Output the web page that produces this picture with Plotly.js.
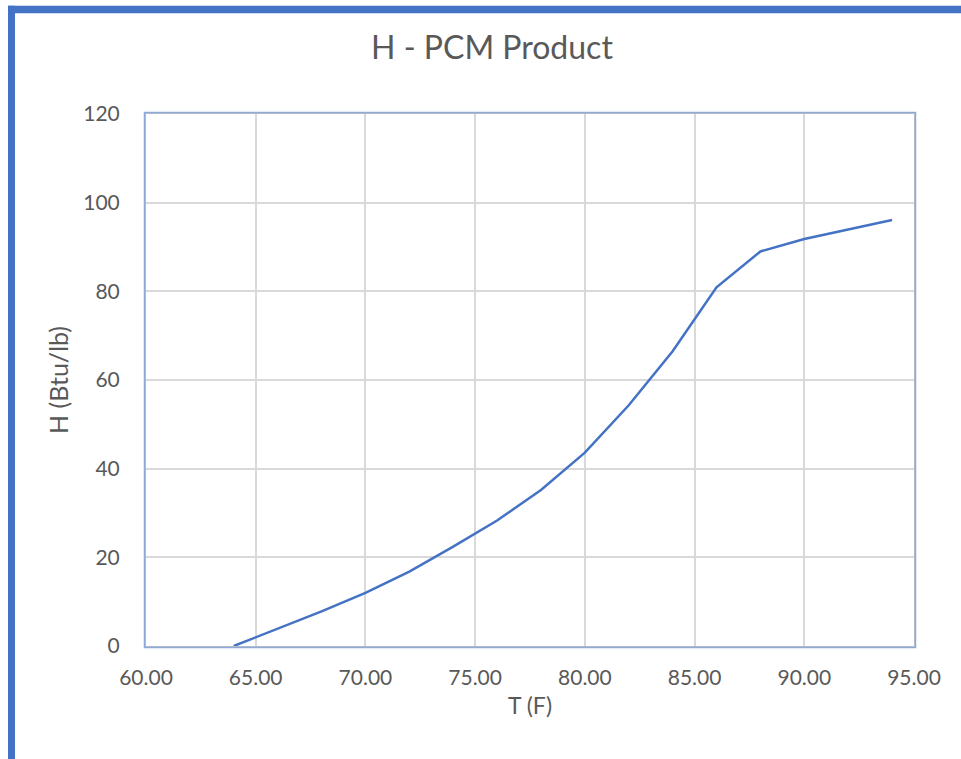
<!DOCTYPE html>
<html>
<head>
<meta charset="utf-8">
<script src="https://cdn.plot.ly/plotly-3.0.1.min.js"></script>
<style>
  html, body { margin: 0; padding: 0; background: #ffffff; }
  #chart { width: 961px; height: 759px; }
</style>
</head>
<body>
<div id="chart"></div>
<script>
// Data
const temperatureF = [64, 66, 68, 70, 72, 74, 76, 78, 80, 82, 84, 86, 88, 90, 92, 94];
const enthalpyBtuLb = [0, 3.9, 7.8, 12.0, 16.8, 22.4, 28.3, 35.2, 43.6, 54.3, 66.5, 80.9, 89.0, 91.8, 94.0, 96.1];
const xTickValues = [60, 65, 70, 75, 80, 85, 90, 95];
const xTickLabels = ["60.00", "65.00", "70.00", "75.00", "80.00", "85.00", "90.00", "95.00"];
const yTickValues = [0, 20, 40, 60, 80, 100, 120];

const chartTitle = "H - PCM Product";
const xTitle = "T (F)";
const yTitle = "H (Btu/lb)";

const W = 961, H = 759;
const L = 146, R = 914, T = 113.5, B = 646.5;
const pw = R - L, ph = B - T;
const px = v => (v - L) / pw;
const py = v => (B - v) / ph;

const fontFam = "Lato, 'Open Sans', sans-serif";
const textColor = "#595959";

const trace = {
  x: temperatureF,
  y: enthalpyBtuLb,
  type: "scatter",
  mode: "lines",
  line: { color: "#4472c4", width: 2.5 },
  hoverinfo: "x+y",
  showlegend: false
};

const layout = {
  width: W,
  height: H,
  margin: { l: L, r: W - R, t: T, b: H - B, pad: 0 },
  paper_bgcolor: "#ffffff",
  plot_bgcolor: "#ffffff",
  title: {
    text: chartTitle,
    font: { family: fontFam, size: 32, color: textColor },
    x: 492 / W, xref: "container", xanchor: "center",
    y: 1 - 48 / H, yref: "container", yanchor: "middle"
  },
  xaxis: {
    range: [60, 95],
    tickmode: "array",
    tickvals: xTickValues,
    ticktext: xTickLabels,
    ticks: "",
    ticklabelstandoff: 12,
    tickfont: { family: fontFam, size: 21, color: textColor },
    showgrid: true,
    gridcolor: "#d9d9d9",
    gridwidth: 2,
    zeroline: false,
    showline: true,
    linecolor: "#bfbfbf",
    linewidth: 2,
    mirror: true,
    title: { text: xTitle, font: { family: fontFam, size: 23, color: textColor }, standoff: 10 }
  },
  yaxis: {
    range: [0, 120],
    tickmode: "array",
    tickvals: yTickValues,
    ticks: "",
    ticklabelstandoff: 20,
    tickfont: { family: fontFam, size: 21, color: textColor },
    showgrid: true,
    gridcolor: "#d9d9d9",
    gridwidth: 2,
    zeroline: false,
    showline: true,
    linecolor: "#bfbfbf",
    linewidth: 2,
    mirror: true,
    title: { text: yTitle, font: { family: fontFam, size: 25, color: textColor }, standoff: 8 }
  },
  shapes: [
    // thin blue outline around plot area
    { type: "rect", xref: "paper", yref: "paper",
      x0: px(L - 1.5), x1: px(R + 1.5), y0: py(B + 1.5), y1: py(T - 1.5),
      line: { color: "#8eaadb", width: 1.5 }, fillcolor: "rgba(0,0,0,0)", layer: "above" },
    // left blue page border
    { type: "rect", xref: "paper", yref: "paper",
      x0: px(8), x1: px(15), y0: py(H + 2), y1: py(5),
      line: { width: 0 }, fillcolor: "#4472c4", layer: "above" },
    // top blue page border
    { type: "rect", xref: "paper", yref: "paper",
      x0: px(8), x1: px(W + 2), y0: py(12.5), y1: py(5),
      line: { width: 0 }, fillcolor: "#4472c4", layer: "above" }
  ]
};

Plotly.newPlot("chart", [trace], layout, { staticPlot: true, displayModeBar: false });
</script>
</body>
</html>
